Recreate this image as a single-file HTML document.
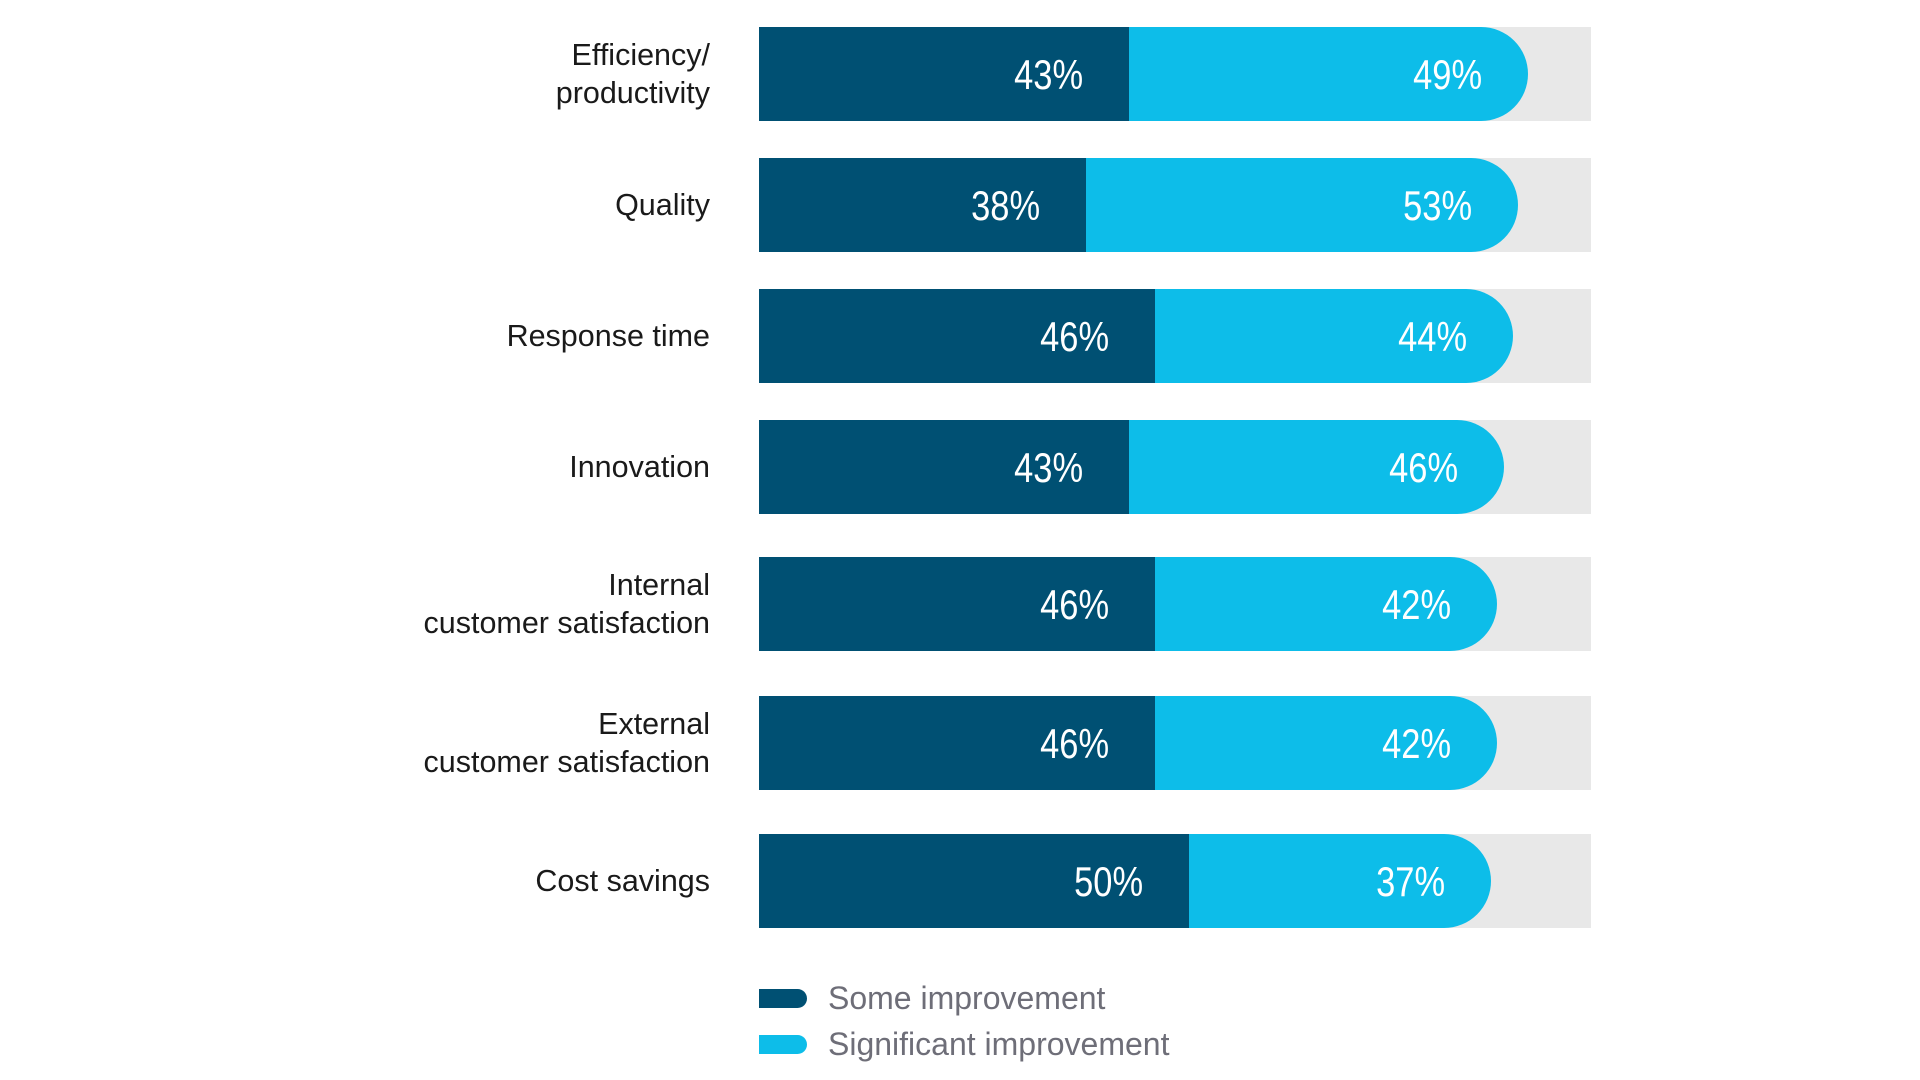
<!DOCTYPE html>
<html><head><meta charset="utf-8"><style>
html,body{margin:0;padding:0;background:#fff;}
body{width:1920px;height:1080px;position:relative;overflow:hidden;font-family:"Liberation Sans",sans-serif;}
.cat{position:absolute;right:1210px;text-align:right;font-size:30.5px;line-height:38px;color:#1a1a1a;}
.lbl{position:absolute;font-family:"Liberation Sans Narrow","Liberation Sans",sans-serif;font-size:42px;color:#fff;line-height:42px;transform:scaleX(0.82);transform-origin:right center;}
.leg{position:absolute;font-size:32px;color:#6e6e78;}
</style></head><body>
<div id="chart"></div>
<script>
const categories=[["Efficiency/","productivity"],["Quality"],["Response time"],["Innovation"],["Internal","customer satisfaction"],["External","customer satisfaction"],["Cost savings"]];
const someVals=[43,38,46,43,46,46,50];
const sigVals=[49,53,44,46,42,42,37];
const legendLabels=["Some improvement","Significant improvement"];
const rowTops=[27,158,289,420,557,696,834];
const X0=759, PX=8.6, PX2=8.15, H=94, GRAYW=832;
const root=document.getElementById('chart');
function x(v){return X0+v*PX;}
function w2(v){return v*PX2;}
categories.forEach((c,i)=>{
  const top=rowTops[i];
  const g=document.createElement('div');
  
  
  g.style.cssText=`position:absolute;left:${X0}px;top:${top}px;width:${GRAYW}px;height:${H}px;background:#e8e8e8;`;
  root.appendChild(g);
  const s2=document.createElement('div');
  
  
  const x1=x(someVals[i]), x2=x1+w2(sigVals[i]);
  s2.style.cssText=`position:absolute;left:${x1-50}px;top:${top}px;width:${x2-x1+50}px;height:${H}px;background:#0dbde9;border-radius:0 ${H/2}px ${H/2}px 0;`;
  root.appendChild(s2);
  const s1=document.createElement('div');
  
  
  s1.style.cssText=`position:absolute;left:${X0}px;top:${top}px;width:${x1-X0}px;height:${H}px;background:#005073;`;
  root.appendChild(s1);
  const l1=document.createElement('div');
  
  
  l1.className='lbl';
  l1.textContent=someVals[i]+'%';
  l1.style.right=(1920-x1+46)+'px';l1.style.top=(top+H/2-20)+'px';
  root.appendChild(l1);
  const l2=document.createElement('div');
  
  
  l2.className='lbl';
  l2.textContent=sigVals[i]+'%';
  l2.style.right=(1920-x2+46)+'px';l2.style.top=(top+H/2-20)+'px';
  root.appendChild(l2);
  const t=document.createElement('div');
  
  
  t.className='cat';
  t.innerHTML=c.join('<br>');
  t.style.top=(top+H/2-c.length*19)+'px';
  root.appendChild(t);
});
const legColors=['#005073','#0dbde9'];
const legTops=[989,1035];
legendLabels.forEach((L,i)=>{
  const sw=document.createElement('div');
  
  
  sw.style.cssText=`position:absolute;left:759px;top:${legTops[i]}px;width:48px;height:19px;background:${legColors[i]};border-radius:0 10px 10px 0;`;
  root.appendChild(sw);
  const t=document.createElement('div');
  
  
  t.className='leg';
  t.textContent=L;
  t.style.left='828px';t.style.top=(legTops[i]-9)+'px';
  root.appendChild(t);
});
</script>
</body></html>
